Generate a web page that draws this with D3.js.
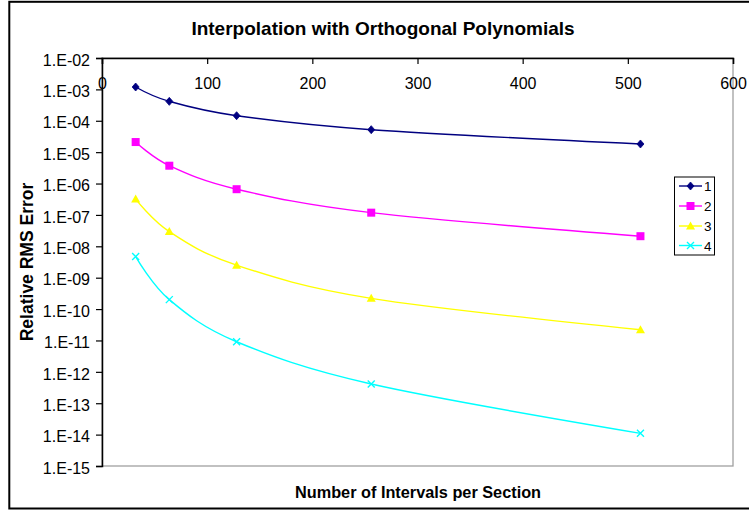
<!DOCTYPE html>
<html>
<head>
<meta charset="utf-8">
<script src="https://cdn.jsdelivr.net/npm/d3@7"></script>
<style>
  html, body { margin: 0; padding: 0; background: #fff; }
  svg { display: block; }
  text { font-family: "Liberation Sans", Arial, sans-serif; fill: #000; }
</style>
</head>
<body>
<svg id="chart" width="749" height="510"></svg>
<script>
// Number of intervals per section
const intervals = [32, 64, 128, 256, 512];

// Relative RMS error for each polynomial order
const order1 = [1.19e-3, 4.15e-4, 1.45e-4, 5.2e-5, 1.82e-5];
const order2 = [2.1e-5, 3.7e-6, 6.6e-7, 1.18e-7, 2.1e-8];
const order3 = [3.2e-7, 2.95e-8, 2.5e-9, 2.2e-10, 2.2e-11];
const order4 = [4.7e-9, 2.0e-10, 9.1e-12, 4.1e-13, 1.1e-14];

const seriesNames = ["1", "2", "3", "4"];
const seriesColors = ["#000080", "#ff00ff", "#ffff00", "#00ffff"];
const seriesSymbols = ["diamond", "square", "triangle", "cross"];

const xTickValues = [0, 100, 200, 300, 400, 500, 600];
const yTickValues = [1e-2, 1e-3, 1e-4, 1e-5, 1e-6, 1e-7, 1e-8, 1e-9, 1e-10, 1e-11, 1e-12, 1e-13, 1e-14, 1e-15];
const yTickLabels = ["1.E-02", "1.E-03", "1.E-04", "1.E-05", "1.E-06", "1.E-07", "1.E-08",
                     "1.E-09", "1.E-10", "1.E-11", "1.E-12", "1.E-13", "1.E-14", "1.E-15"];

const allSeries = [order1, order2, order3, order4];

const svg = d3.select("#chart");
const plot = { left: 102, right: 733, top: 58, bottom: 466 };

const x = d3.scaleLinear().domain([0, 600]).range([plot.left, plot.right]);
const y = d3.scaleLog().domain([1e-15, 1e-2]).range([plot.bottom, plot.top]);

// Outer chart frame
svg.append("rect")
  .attr("x", 9.3).attr("y", 1.8)
  .attr("width", 760).attr("height", 506.7)
  .attr("fill", "none").attr("stroke", "#000").attr("stroke-width", 2);

// Plot-area border
svg.append("rect")
  .attr("x", plot.left).attr("y", plot.top)
  .attr("width", plot.right - plot.left).attr("height", plot.bottom - plot.top)
  .attr("fill", "none").attr("stroke", "#a0a0a0").attr("stroke-width", 1.3);

// Title
svg.append("text")
  .attr("x", 383).attr("y", 35)
  .attr("text-anchor", "middle")
  .style("font-size", "19px").style("font-weight", "bold")
  .text("Interpolation with Orthogonal Polynomials");

// Y axis (log)
const yAxis = svg.append("g")
  .attr("transform", `translate(${plot.left},0)`)
  .call(d3.axisLeft(y).tickValues(yTickValues)
    .tickFormat((d, i) => yTickLabels[i]).tickSize(6).tickPadding(6));
yAxis.select(".domain").attr("stroke", "#000").attr("stroke-width", 1.5);
yAxis.selectAll(".tick line").attr("stroke", "#000").attr("stroke-width", 1.2);
yAxis.selectAll(".tick text")
  .style("font-size", "16px").style("font-family", "'Liberation Sans', Arial, sans-serif")
  .attr("dy", "0.45em");

// X axis crossing at the top of the log axis
const xAxis = svg.append("g")
  .attr("transform", `translate(0,${plot.top})`)
  .call(d3.axisBottom(x).tickValues(xTickValues).tickSize(6).tickPadding(14));
xAxis.select(".domain").attr("stroke", "#000").attr("stroke-width", 1.5);
xAxis.selectAll(".tick line").attr("stroke", "#000").attr("stroke-width", 1.2);
xAxis.selectAll(".tick text")
  .style("font-size", "16px").style("font-family", "'Liberation Sans', Arial, sans-serif")
  .attr("y", 19.5).attr("dy", "0.71em");

// Axis titles
svg.append("text")
  .attr("x", 418).attr("y", 498)
  .attr("text-anchor", "middle")
  .style("font-size", "16.3px").style("font-weight", "bold")
  .text("Number of Intervals per Section");

svg.append("text")
  .attr("transform", "translate(33,262) rotate(-90)")
  .attr("text-anchor", "middle")
  .style("font-size", "17.5px").style("font-weight", "bold")
  .text("Relative RMS Error");

// Marker drawing
function drawMarker(g, kind, color, cx, cy) {
  if (kind === "diamond") {
    g.append("path")
      .attr("d", `M${cx},${cy - 4}L${cx + 3.5},${cy}L${cx},${cy + 4}L${cx - 3.5},${cy}Z`)
      .attr("fill", color).attr("stroke", color).attr("stroke-width", 0.8);
  } else if (kind === "square") {
    g.append("rect")
      .attr("x", cx - 4).attr("y", cy - 4).attr("width", 8).attr("height", 8)
      .attr("fill", color);
  } else if (kind === "triangle") {
    g.append("path")
      .attr("d", `M${cx},${cy - 4.5}L${cx + 4.5},${cy + 3.5}L${cx - 4.5},${cy + 3.5}Z`)
      .attr("fill", color);
  } else {
    g.append("path")
      .attr("d", `M${cx - 3.5},${cy - 3.5}L${cx + 3.5},${cy + 3.5}M${cx + 3.5},${cy - 3.5}L${cx - 3.5},${cy + 3.5}`)
      .attr("stroke", color).attr("stroke-width", 1.4).attr("fill", "none");
  }
}

// Smoothed series lines with markers
const line = d3.line()
  .x((d, i) => x(intervals[i]))
  .y(d => y(d))
  .curve(d3.curveCatmullRom.alpha(0));

allSeries.forEach((vals, s) => {
  const g = svg.append("g");
  g.append("path")
    .attr("d", line(vals))
    .attr("fill", "none")
    .attr("stroke", seriesColors[s])
    .attr("stroke-width", 1.4);
  vals.forEach((v, i) => drawMarker(g, seriesSymbols[s], seriesColors[s], x(intervals[i]), y(v)));
});

// Legend
const legend = svg.append("g");
legend.append("rect")
  .attr("x", 674.5).attr("y", 177)
  .attr("width", 40).attr("height", 78)
  .attr("fill", "#fff").attr("stroke", "#000").attr("stroke-width", 1);

const legendRows = [186, 206, 226, 245.5];
seriesNames.forEach((name, s) => {
  const ly = legendRows[s];
  legend.append("line")
    .attr("x1", 679).attr("x2", 702).attr("y1", ly).attr("y2", ly)
    .attr("stroke", seriesColors[s]).attr("stroke-width", 1.4);
  drawMarker(legend, seriesSymbols[s], seriesColors[s], 690.5, ly);
  legend.append("text")
    .attr("x", 704).attr("y", ly + 5)
    .style("font-size", "13.5px")
    .text(name);
});
</script>
</body>
</html>
